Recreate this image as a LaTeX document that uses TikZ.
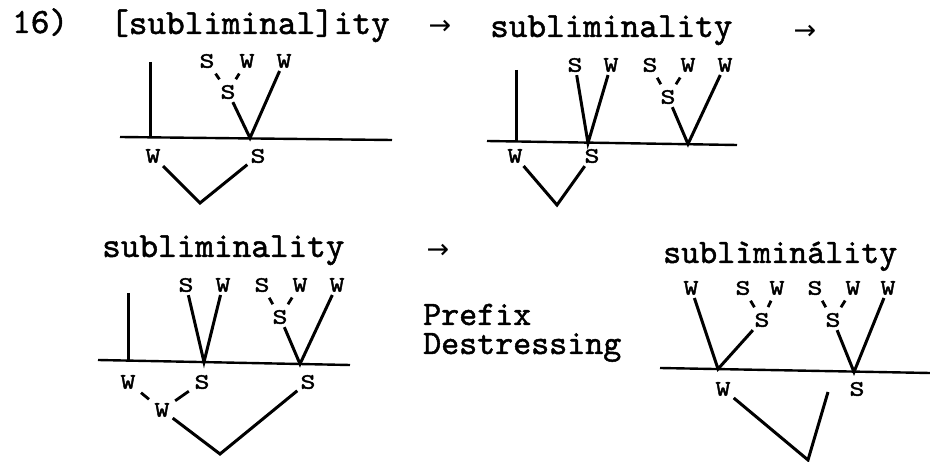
\documentclass[tikz,border=0pt]{standalone}
\usepackage{fontspec}
\newfontfamily\twfont{lmmono10-regular.otf}[FakeBold=1.4]
\newfontfamily\twlblfont{lmmono10-regular.otf}[FakeBold=2,FakeStretch=1.3]
\newfontfamily\arrfont{DejaVu Sans}
\newcommand\wordfont{\twfont\fontsize{35.5}{36}\selectfont}
\newcommand\wordfontb{\twfont\fontsize{34.3}{35}\selectfont}
\newcommand\lblfont{\twlblfont\fontsize{22}{22}\selectfont}

\begin{document}
\begin{tikzpicture}[x=1pt,y=-1pt,
  word/.style={font=\wordfont,inner sep=0pt,anchor=base west},
  wordb/.style={font=\wordfontb,inner sep=0pt,anchor=base west},
  rarrow/.style={font=\arrfont\fontsize{27}{27}\selectfont,inner sep=0pt},
  lbl/.style={font=\lblfont,inner sep=3pt},
  arm/.style={line width=3pt},
  bar/.style={line width=2.4pt},
  tick/.style={line width=2.8pt,shorten <=3pt,shorten >=3pt}]
\useasboundingbox (0,0) rectangle (930,462);
%%
%% Panel 1: [subliminal]ity
\node[word](num)   at ( 12, 33) {16)};
\node[word](wda)   at (110, 34) {[subliminal]ity};
\node[lbl](s1a)    at (207, 61) {S};
\node[lbl](s1b)    at (247, 61) {W};
\node[lbl](s1c)    at (284, 61) {W};
\node[lbl](m1)     at (228, 92) {S};
\node[lbl](b1w)    at (153,156) {W};
\node[lbl](b1s)    at (258,156) {S};
\coordinate (v1t) at (150, 62);
\coordinate (v1b) at (150,138);
\coordinate (h1l) at (120,137);
\coordinate (h1r) at (392,140);
\coordinate (j1)  at (250,138);
\coordinate (r1)  at (200,203);
\draw[bar](h1l) -- (h1r);
\draw[arm](v1t) -- (v1b);
\draw[tick](s1a) -- (m1);
\draw[tick](s1b) -- (m1);
\draw[arm](m1) -- (j1) -- (s1c);
\draw[arm](b1w) -- (r1) -- (b1s);
%%
%% Panel 2: subliminality
\node[rarrow](ar1) at (440, 27) {→};
\node[word](wdb)   at (490, 37) {subliminality};
\node[rarrow](ar2) at (805, 32) {→};
\node[lbl](s2a)    at (575, 65) {S};
\node[lbl](s2b)    at (611, 65) {W};
\node[lbl](s2c)    at (650, 65) {S};
\node[lbl](s2d)    at (688, 65) {W};
\node[lbl](s2e)    at (725, 65) {W};
\node[lbl](m2)     at (668, 97) {S};
\node[lbl](b2w)    at (515,156) {W};
\node[lbl](b2s)    at (592,156) {S};
\coordinate (v2t) at (516, 70);
\coordinate (v2b) at (516,142);
\coordinate (h2l) at (487,141);
\coordinate (h2r) at (737,145);
\coordinate (j2a) at (588,143);
\coordinate (j2b) at (688,144);
\coordinate (r2)  at (557,205);
\draw[bar](h2l) -- (h2r);
\draw[arm](v2t) -- (v2b);
\draw[arm](s2a) -- (j2a) -- (s2b);
\draw[tick](s2c) -- (m2);
\draw[tick](s2d) -- (m2);
\draw[arm](m2) -- (j2b) -- (s2e);
\draw[arm](b2w) -- (r2) -- (b2s);
%%
%% Panel 3: subliminality
\node[word](wdc)   at (102,257) {subliminality};
\node[lbl](s3a)    at (186,285) {S};
\node[lbl](s3b)    at (223,285) {W};
\node[lbl](s3c)    at (262,285) {S};
\node[lbl](s3d)    at (300,285) {W};
\node[lbl](s3e)    at (337,285) {W};
\node[lbl](m3)     at (280,317) {S};
\node[lbl](b3w)    at (128,382) {W};
\node[lbl](b3s)    at (202,382) {S};
\node[lbl](b3t)    at (308,382) {S};
\node[lbl](c3)     at (162,410) {W};
\coordinate (v3t) at (128,293);
\coordinate (v3b) at (128,362);
\coordinate (h3l) at ( 98,360);
\coordinate (h3r) at (350,365);
\coordinate (j3a) at (204,362);
\coordinate (j3b) at (300,364);
\coordinate (r3)  at (220,454);
\draw[bar](h3l) -- (h3r);
\draw[arm](v3t) -- (v3b);
\draw[arm](s3a) -- (j3a) -- (s3b);
\draw[tick](s3c) -- (m3);
\draw[tick](s3d) -- (m3);
\draw[arm](m3) -- (j3b) -- (s3e);
\draw[tick](b3w) -- (c3);
\draw[tick](b3s) -- (c3);
\draw[arm](c3) -- (r3) -- (b3t);
%%
%% Panel 4: Prefix Destressing -> subliminality
\node[rarrow](ar3) at (438,251) {→};
\node[wordb](pfx)  at (423,325) {Prefix};
\node[wordb](dst)  at (423,354) {Destressing};
\node[wordb](wdd)  at (663,263) {sublìminálity};
\node[lbl](t4a)    at (691,288) {W};
\node[lbl](t4b)    at (743,288) {S};
\node[lbl](t4c)    at (777,288) {W};
\node[lbl](t4d)    at (815,288) {S};
\node[lbl](t4e)    at (853,288) {W};
\node[lbl](t4f)    at (888,288) {W};
\node[lbl](m4a)    at (762,320) {S};
\node[lbl](m4b)    at (833,320) {S};
\node[lbl](b4w)    at (723,389) {W};
\node[lbl](b4s)    at (857,389) {S};
\coordinate (h4l) at (660,368);
\coordinate (h4r) at (930,373);
\coordinate (j4a) at (718,369);
\coordinate (j4b) at (854,372);
\coordinate (r4)  at (808,460);
\coordinate (e4)  at (828,392);
\draw[bar](h4l) -- (h4r);
\draw[tick](t4b) -- (m4a);
\draw[tick](t4c) -- (m4a);
\draw[tick](t4d) -- (m4b);
\draw[tick](t4e) -- (m4b);
\draw[arm](t4a) -- (j4a) -- (m4a);
\draw[arm](m4b) -- (j4b) -- (t4f);
\draw[arm](b4w) -- (r4) -- (e4);
\end{tikzpicture}
\end{document}
